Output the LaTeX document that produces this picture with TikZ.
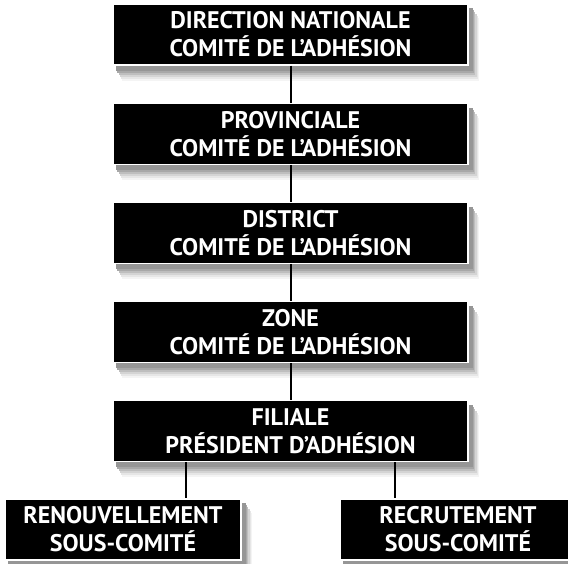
\documentclass[tikz,border=0pt]{standalone}
\usepackage{fontspec}
\setmainfont{PT Sans}
\usepackage{tikz}
\usetikzlibrary{calc}
\usetikzlibrary{positioning}
\definecolor{shadea}{RGB}{244, 244, 244}
\definecolor{shadeb}{RGB}{230, 230, 230}
\definecolor{shadec}{RGB}{212, 212, 212}
\definecolor{shaded}{RGB}{190, 190, 190}
\definecolor{shadee}{RGB}{168, 168, 168}
\definecolor{shadef}{RGB}{150, 150, 150}

\pgfdeclarelayer{background}
\pgfsetlayers{background,main}

\tikzset{
  orgbox/.style={fill=black, draw=white, line width=1.2pt, text=white, align=center,
    minimum height=61pt, inner sep=0pt, font=\bfseries\fontsize{24}{28}\selectfont},
  mainbox/.style={orgbox, minimum width=355pt},
  subbox/.style={orgbox, minimum width=236pt},
  link/.style={line width=2pt}
}

\begin{document}
\begin{tikzpicture}
            \useasboundingbox (0pt,0pt) rectangle (568pt,-564pt);
            \node[mainbox]                    (nat)  at (290.5pt,-34.5pt) {DIRECTION NATIONALE\\COMITÉ DE L’ADHÉSION};
            \node[mainbox, below=37pt of nat]  (prov)                     {PROVINCIALE\\COMITÉ DE L’ADHÉSION};
            \node[mainbox, below=37pt of prov] (dist)                     {DISTRICT\\COMITÉ DE L’ADHÉSION};
            \node[mainbox, below=37pt of dist] (zone)                     {ZONE\\COMITÉ DE L’ADHÉSION};
            \node[mainbox, below=37pt of zone] (fil)                      {FILIALE\\PRÉSIDENT D’ADHÉSION};
            \node[subbox]                     (ren)  at (123pt,-529.5pt) {RENOUVELLEMENT\\SOUS-COMITÉ};
            \node[subbox]                     (rec)  at (458pt,-529.5pt) {RECRUTEMENT\\SOUS-COMITÉ};
            % ombres
            \begin{pgfonlayer}{background}
              \foreach \bx in {nat,prov,dist,zone,fil,ren,rec}{
                \fill[shadea] ($(\bx.south west)+(10pt,-15pt)$) rectangle ($(\bx.north east)+(10pt,-15pt)$);
                \fill[shadeb] ($(\bx.south west)+(9pt,-13pt)$)  rectangle ($(\bx.north east)+(9pt,-13pt)$);
                \fill[shadec] ($(\bx.south west)+(8pt,-11pt)$)  rectangle ($(\bx.north east)+(8pt,-11pt)$);
                \fill[shaded] ($(\bx.south west)+(6.5pt,-9pt)$) rectangle ($(\bx.north east)+(6.5pt,-9pt)$);
                \fill[shadee] ($(\bx.south west)+(5pt,-7pt)$)   rectangle ($(\bx.north east)+(5pt,-7pt)$);
                \fill[shadef] ($(\bx.south west)+(4pt,-5pt)$)   rectangle ($(\bx.north east)+(4pt,-5pt)$);
              }
            \end{pgfonlayer}
            % liens
            \draw[link] (nat.south)  -- (prov.north);
            \draw[link] (prov.south) -- (dist.north);
            \draw[link] (dist.south) -- (zone.north);
            \draw[link] (zone.south) -- (fil.north);
            \coordinate (fl) at ($(fil.south west)!0.208!(fil.south east)$);
            \coordinate (fr) at ($(fil.south west)!0.792!(fil.south east)$);
            \draw[link] (fl) -- (fl |- ren.north);
            \draw[link] (fr) -- (fr |- rec.north);
        \end{tikzpicture}
\end{document}
